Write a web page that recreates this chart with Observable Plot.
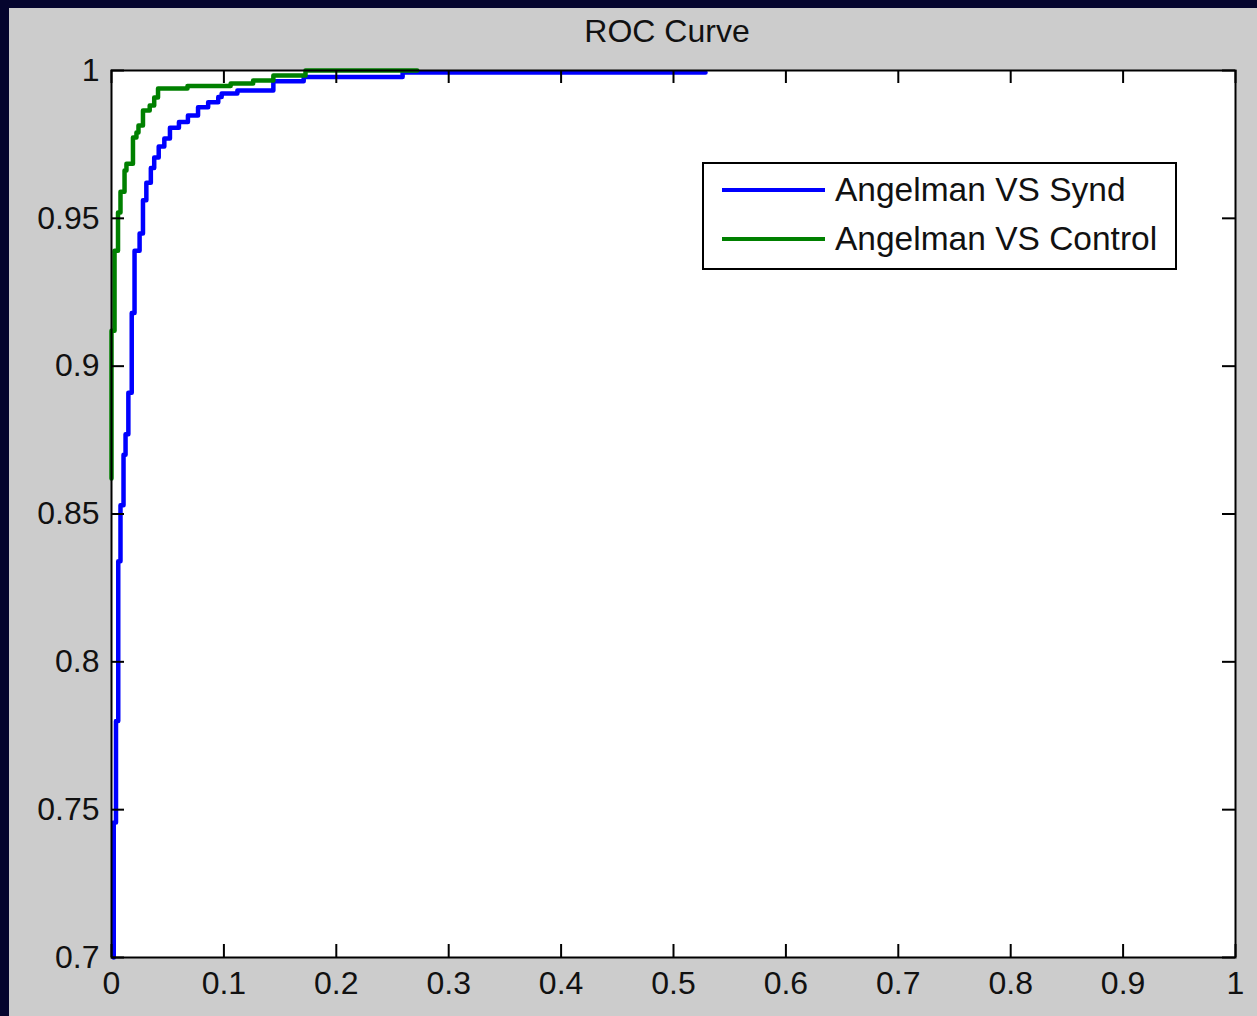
<!DOCTYPE html>
<html>
<head>
<meta charset="utf-8">
<script src="https://cdn.jsdelivr.net/npm/d3@7"></script>
<script src="https://cdn.jsdelivr.net/npm/@observablehq/plot@0.6"></script>
<style>
  html, body { margin: 0; padding: 0; background: #05052e; }
  body { width: 1257px; height: 1016px; position: relative; overflow: hidden; }
  #fig { position: absolute; left: 9px; top: 8px; width: 1248px; height: 1008px; background: #cccccc; }
  #title { position: absolute; left: 558px; top: 7px; width: 200px; text-align: center;
           font: 32px/32px "Liberation Sans", Arial, sans-serif; color: #111; }
  #chart { position: absolute; left: 0; top: 40px; }
  #legend { position: absolute; left: 693px; top: 154px; width: 475px; height: 108px; box-sizing: border-box;
            border: 2px solid #000; background: #fff; padding-top: 1px; }
  .row { height: 49px; display: flex; align-items: center; }
  .swatch { margin-left: 18px; width: 103px; height: 4px; }
  .label { margin-left: 10px; font: 33.5px/40px "Liberation Sans", Arial, sans-serif; color: #111; }
</style>
</head>
<body>
<div id="fig">
  <div id="title"></div>
  <div id="chart"></div>
  <div id="legend"></div>
</div>
<script>
const chartTitle = "ROC Curve";
const xTicks = [0, 0.1, 0.2, 0.3, 0.4, 0.5, 0.6, 0.7, 0.8, 0.9, 1];
const yTicks = [0.7, 0.75, 0.8, 0.85, 0.9, 0.95, 1];
const seriesNames = ["Angelman VS Synd", "Angelman VS Control"];
const seriesColors = ["#0000ff", "#008000"];

// Angelman VS Synd (blue): false positive rate / true positive rate at each step
const fprSynd = [0.002, 0.002, 0.004, 0.006, 0.008, 0.0107, 0.0125, 0.015, 0.018, 0.0205, 0.025, 0.028, 0.031, 0.035, 0.038, 0.042, 0.047, 0.052, 0.060, 0.068, 0.077, 0.086, 0.095, 0.098, 0.112, 0.144, 0.171, 0.259, 0.5285];
const tprSynd = [0.700, 0.7457, 0.780, 0.834, 0.853, 0.870, 0.877, 0.891, 0.918, 0.939, 0.9449, 0.9561, 0.962, 0.967, 0.9706, 0.9743, 0.977, 0.9806, 0.9826, 0.9848, 0.9876, 0.9893, 0.9910, 0.9922, 0.9932, 0.9964, 0.9978, 0.9993, 0.9993];

// Angelman VS Control (green)
const fprControl = [0, 0, 0.0027, 0.0058, 0.008, 0.0116, 0.0133, 0.0191, 0.0222, 0.024, 0.028, 0.034, 0.038, 0.0414, 0.0676, 0.106, 0.126, 0.144, 0.1726, 0.272];
const tprControl = [0.862, 0.912, 0.939, 0.952, 0.959, 0.9662, 0.9685, 0.9773, 0.979, 0.9814, 0.9865, 0.9882, 0.9909, 0.9939, 0.9948, 0.9956, 0.9966, 0.9983, 1.0, 1.0];

const rows = [
  ...fprSynd.map((x, i) => ({series: seriesNames[0], x, y: tprSynd[i]})),
  ...fprControl.map((x, i) => ({series: seriesNames[1], x, y: tprControl[i]}))
];

const W = 1248, H = 968, mL = 102, mR = 22, mT = 22, mB = 59;
const innerW = W - mL - mR, innerH = H - mT - mB;
const tickLen = 13;

document.getElementById("title").textContent = chartTitle;

const chart = Plot.plot({
  width: W, height: H,
  marginLeft: mL, marginRight: mR, marginTop: mT, marginBottom: mB,
  style: {background: "transparent", fontFamily: "'Liberation Sans', Arial, sans-serif", fontSize: "32px", color: "#111", overflow: "visible"},
  x: {domain: [0, 1], ticks: xTicks, tickFormat: d => String(d), tickSize: 0, tickPadding: 14, label: null},
  y: {domain: [0.7, 1], ticks: yTicks, tickFormat: d => String(d), tickSize: 0, tickPadding: 12, label: null},
  color: {domain: seriesNames, range: seriesColors},
  marks: [
    Plot.frame({fill: "white"}),
    Plot.line(rows, {x: "x", y: "y", z: "series", stroke: "series", strokeWidth: 4.5, curve: "step-after"}),
    Plot.frame({stroke: "black", strokeWidth: 2}),
    Plot.tickX(xTicks, {x: d => d, insetTop: innerH - tickLen, stroke: "black", strokeWidth: 2}),
    Plot.tickX(xTicks, {x: d => d, insetBottom: innerH - tickLen, stroke: "black", strokeWidth: 2}),
    Plot.tickY(yTicks, {y: d => d, insetRight: innerW - tickLen, stroke: "black", strokeWidth: 2}),
    Plot.tickY(yTicks, {y: d => d, insetLeft: innerW - tickLen, stroke: "black", strokeWidth: 2})
  ]
});
document.getElementById("chart").appendChild(chart);

const legend = document.getElementById("legend");
seriesNames.forEach((name, i) => {
  const row = document.createElement("div");
  row.className = "row";
  const sw = document.createElement("div");
  sw.className = "swatch";
  sw.style.background = seriesColors[i];
  const lb = document.createElement("div");
  lb.className = "label";
  lb.textContent = name;
  row.appendChild(sw);
  row.appendChild(lb);
  legend.appendChild(row);
});
</script>
</body>
</html>
